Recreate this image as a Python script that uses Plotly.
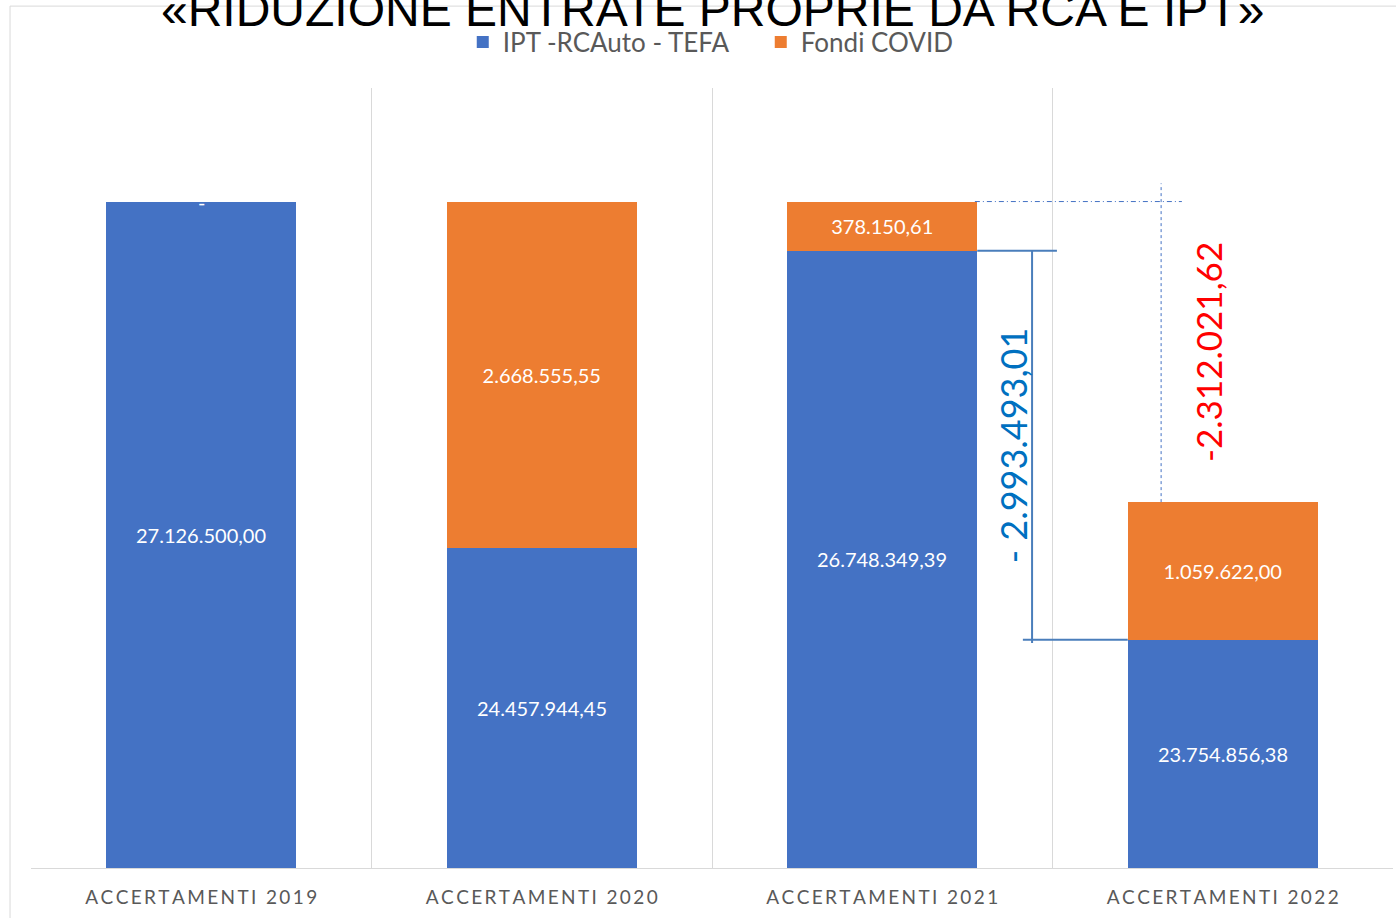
import plotly.graph_objects as go

categories = ["ACCERTAMENTI 2019", "ACCERTAMENTI 2020", "ACCERTAMENTI 2021", "ACCERTAMENTI 2022"]
ipt_rca_tefa = [27126500.00, 24457944.45, 26748349.39, 23754856.38]
fondi_covid = [0.0, 2668555.55, 378150.61, 1059622.00]

y_min, y_max = 22000000, 28000000
totals = [a + b for a, b in zip(ipt_rca_tefa, fondi_covid)]


def it_fmt(v):
    s = f"{v:,.2f}"
    return s.replace(",", "X").replace(".", ",").replace("X", ".")


def spaced(s):
    # Excel-style letter spacing on the category labels
    return "\u2009".join(s)


blue = "#4472C4"
orange = "#ED7D31"
lab_font = dict(family="Lato", size=20, color="white")

fig = go.Figure()
fig.add_trace(go.Bar(
    x=categories, y=ipt_rca_tefa, name="IPT -RCAuto - TEFA",
    marker=dict(color=blue, line=dict(width=0)),
))
fig.add_trace(go.Bar(
    x=categories, y=fondi_covid, name="Fondi COVID",
    marker=dict(color=orange, line=dict(width=0)),
    text=[it_fmt(v) if v else "" for v in fondi_covid], textposition="inside",
    insidetextanchor="middle", textangle=0, textfont=lab_font,
))

# blue labels sit in the middle of the visible part of the bar (axis does not start at 0)
for i, v in enumerate(ipt_rca_tefa):
    fig.add_annotation(x=i, y=(y_min + v) / 2, text=it_fmt(v), showarrow=False, font=lab_font)

# "-" label for the empty COVID segment in 2019
fig.add_annotation(x=0, y=totals[0], text="-", showarrow=False,
                   font=lab_font, yanchor="middle")

drop_blue = ipt_rca_tefa[2] - ipt_rca_tefa[3]
drop_total = totals[2] - totals[3]
half = 0.279
line_blue = "#4A7EBB"

# dimension line between blue tops 2021 -> 2022
fig.add_shape(type="line", x0=2 + half, x1=2.513, y0=ipt_rca_tefa[2], y1=ipt_rca_tefa[2],
              line=dict(color=line_blue, width=2))
fig.add_shape(type="line", x0=2.44, x1=2.44, y0=ipt_rca_tefa[2], y1=ipt_rca_tefa[3] - 25000,
              line=dict(color=line_blue, width=2))
fig.add_shape(type="line", x0=2.413, x1=3 - half, y0=ipt_rca_tefa[3], y1=ipt_rca_tefa[3],
              line=dict(color=line_blue, width=2))
# dashed guides between totals 2021 -> 2022
fig.add_shape(type="line", x0=2 + half - 0.007, x1=2.88, y0=totals[2], y1=totals[2],
              line=dict(color=blue, width=1, dash="5px,3px,1px,3px"))
fig.add_shape(type="line", x0=2.819, x1=2.819, y0=totals[3], y1=totals[2] + 140000,
              line=dict(color=blue, width=1, dash="3px,3px"))

fig.add_annotation(x=2.384, y=(ipt_rca_tefa[2] + ipt_rca_tefa[3]) / 2,
                   text="- " + it_fmt(drop_blue), textangle=-90, showarrow=False,
                   font=dict(family="Lato", size=36, color="#0070C0"))
fig.add_annotation(x=2.957, y=(totals[2] + totals[3]) / 2,
                   text="-" + it_fmt(drop_total), textangle=-90, showarrow=False,
                   font=dict(family="Lato", size=35, color="#FF0000"))

# title (partly cut at the top, as in the slide)
fig.add_annotation(xref="paper", yref="paper", x=0.5, y=1.1, yanchor="middle",
                   text="«RIDUZIONE ENTRATE PROPRIE DA RCA E IPT»", showarrow=False,
                   font=dict(family="Liberation Sans", size=48, color="black"))

# outer chart frame
fig.add_shape(type="rect", xref="paper", yref="paper", x0=-0.0154, x1=1.01, y0=-0.2, y1=1.105,
              line=dict(color="#D9D9D9", width=1), layer="below")

fig.update_layout(
    width=1396, height=918,
    margin=dict(l=31, r=3, t=88, b=50),
    barmode="stack", bargap=0.442,
    plot_bgcolor="white", paper_bgcolor="white",
    showlegend=True,
    legend=dict(orientation="h", x=0.317, xanchor="left", y=1.059, yanchor="middle",
                font=dict(family="Lato", size=26, color="#595959"),
                entrywidth=253, traceorder="normal"),
    xaxis=dict(showgrid=True, gridcolor="#D9D9D9", gridwidth=1, tickson="boundaries",
               ticks="", showline=True, linecolor="#D9D9D9", linewidth=1,
               tickmode="array", tickvals=categories, ticktext=[spaced(c) for c in categories],
               tickfont=dict(family="Lato", size=19, color="#595959"),
               ticklabelstandoff=12, range=[-0.5, 3.5]),
    yaxis=dict(range=[y_min, y_max], showgrid=False, showticklabels=False,
               zeroline=False, showline=False),
)

fig.write_html("out.html", config={"displayModeBar": False},
               post_script="document.body.style.margin='0';")
